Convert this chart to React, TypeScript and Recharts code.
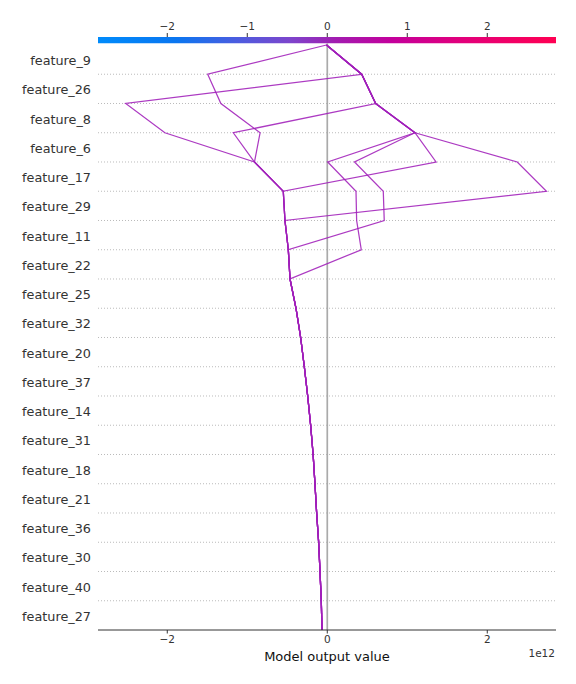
import { ComposedChart, Line, ReferenceArea, ReferenceLine, XAxis, YAxis } from 'recharts';

// features, top to bottom
const features = [
  'feature_9', 'feature_26', 'feature_8', 'feature_6', 'feature_17',
  'feature_29', 'feature_11', 'feature_22', 'feature_25', 'feature_32',
  'feature_20', 'feature_37', 'feature_14', 'feature_31', 'feature_18',
  'feature_21', 'feature_36', 'feature_30', 'feature_40', 'feature_27',
];

// cumulative model output (x1e12) at each row boundary, row 0 = top (final output)
const obs1 = [-0.01, -1.495, -1.33, -0.84, -0.91, -0.55, -0.529, -0.487, -0.466, -0.391, -0.333, -0.287, -0.245, -0.208, -0.177, -0.154, -0.133, -0.108, -0.091, -0.075, -0.066];
const obs2 = [-0.01, 0.43, -2.52, -2.03, -0.91, -0.55, -0.529, -0.487, -0.466, -0.391, -0.333, -0.287, -0.245, -0.208, -0.177, -0.154, -0.133, -0.108, -0.091, -0.075, -0.066];
const obs3 = [-0.01, 0.43, 0.605, -1.175, -0.91, -0.55, -0.529, -0.487, -0.466, -0.391, -0.333, -0.287, -0.245, -0.208, -0.177, -0.154, -0.133, -0.108, -0.091, -0.075, -0.066];
const obs4 = [-0.01, 0.43, 0.605, 1.096, 0.005, 0.359, 0.367, 0.425, -0.466, -0.391, -0.333, -0.287, -0.245, -0.208, -0.177, -0.154, -0.133, -0.108, -0.091, -0.075, -0.066];
const obs5 = [-0.01, 0.43, 0.605, 1.096, 0.34, 0.7, 0.712, -0.487, -0.466, -0.391, -0.333, -0.287, -0.245, -0.208, -0.177, -0.154, -0.133, -0.108, -0.091, -0.075, -0.066];
const obs6 = [-0.01, 0.43, 0.605, 1.096, 1.36, -0.55, -0.529, -0.487, -0.466, -0.391, -0.333, -0.287, -0.245, -0.208, -0.177, -0.154, -0.133, -0.108, -0.091, -0.075, -0.066];
const obs7 = [-0.01, 0.43, 0.605, 1.096, 2.375, 2.74, -0.529, -0.487, -0.466, -0.391, -0.333, -0.287, -0.245, -0.208, -0.177, -0.154, -0.133, -0.108, -0.091, -0.075, -0.066];

const topTicks = [-2, -1, 0, 1, 2];
const bottomTicks = [-2, 0, 2];
const baseValue = 0;

const series = [obs1, obs2, obs3, obs4, obs5, obs6, obs7];
const keys = ['o1', 'o2', 'o3', 'o4', 'o5', 'o6', 'o7'];

const data = obs1.map((_, k) => {
  const row: Record<string, number> = { pos: k };
  series.forEach((s, i) => { row[keys[i]] = s[k]; });
  return row;
});

const xDomain: [number, number] = [-2.866, 2.859];
const yDomain: [number, number] = [-0.2735, 20];
const labelTicks = features.map((_, i) => i + 0.5);
const gridRows = features.slice(1).map((_, i) => i + 1);

const font = '"DejaVu Sans", sans-serif';
const minus = (v: number) => String(v).replace('-', '\u2212');

export default function App() {
  return (
    <div style={{ position: 'relative', width: 568, height: 676, fontFamily: font }}>
      <ComposedChart
        width={568}
        height={676}
        data={data}
        layout="vertical"
        margin={{ top: 4, right: 20, bottom: 24, left: 10 }}
      >
        <defs>
          <linearGradient id="cbar" x1="0" y1="0" x2="1" y2="0">
            <stop offset="0%" stopColor="#008bfb" />
            <stop offset="17%" stopColor="#0a76f0" />
            <stop offset="30%" stopColor="#4a5de0" />
            <stop offset="42%" stopColor="#7d45cc" />
            <stop offset="52%" stopColor="#a21cb0" />
            <stop offset="64%" stopColor="#c3009c" />
            <stop offset="80%" stopColor="#e3007a" />
            <stop offset="100%" stopColor="#ff0052" />
          </linearGradient>
        </defs>
        <XAxis
          xAxisId="top"
          orientation="top"
          type="number"
          domain={xDomain}
          ticks={topTicks}
          tickFormatter={minus}
          height={25}
          axisLine={false}
          tickSize={4}
          tickMargin={3}
          tickLine={{ stroke: '#333' }}
          tick={{ fontSize: 10.5, fill: '#333', fontFamily: font }}
          allowDataOverflow
        />
        <XAxis
          xAxisId="main"
          type="number"
          domain={xDomain}
          ticks={bottomTicks}
          tickFormatter={minus}
          height={30}
          axisLine={{ stroke: '#333' }}
          tickSize={3.5}
          tickMargin={2}
          tickLine={{ stroke: '#333' }}
          tick={{ fontSize: 10.5, fill: '#333', fontFamily: font }}
          allowDataOverflow
        />
        <YAxis
          type="number"
          dataKey="pos"
          domain={yDomain}
          ticks={labelTicks}
          interval={0}
          tickFormatter={(v: number) => features[Math.floor(v)]}
          width={80}
          axisLine={false}
          tickLine={false}
          tickSize={0}
          tickMargin={7}
          tick={{ fontSize: 12.8, fill: '#333', fontFamily: font, dy: 1 }}
          allowDataOverflow
        />
        <ReferenceArea
          xAxisId="top"
          x1={xDomain[0]}
          x2={xDomain[1]}
          y1={yDomain[0]}
          y2={-0.06}
          fill="url(#cbar)"
          fillOpacity={1}
          stroke="none"
          ifOverflow="visible"
        />
        {gridRows.map((k) => (
          <ReferenceLine key={k} xAxisId="main" y={k} stroke="#bbb" strokeDasharray="1 2" strokeWidth={1} />
        ))}
        <ReferenceLine
          xAxisId="main"
          segment={[{ x: baseValue, y: -0.06 }, { x: baseValue, y: 20 }]}
          stroke="#aaa"
          strokeWidth={1.7}
        />
        {keys.map((k) => (
          <Line
            key={k}
            xAxisId="main"
            dataKey={k}
            type="linear"
            stroke="#a01fba"
            strokeWidth={1.25}
            strokeOpacity={0.88}
            dot={false}
            activeDot={false}
            isAnimationActive={false}
          />
        ))}
      </ComposedChart>
      <div style={{ position: 'absolute', left: 219, top: 641, width: 200, textAlign: 'center', fontSize: 13, color: '#111', lineHeight: '15px' }}>
        Model output value
      </div>
      <div style={{ position: 'absolute', right: 21, top: 639, fontSize: 10.5, color: '#333', lineHeight: '12px' }}>
        1e12
      </div>
    </div>
  );
}
